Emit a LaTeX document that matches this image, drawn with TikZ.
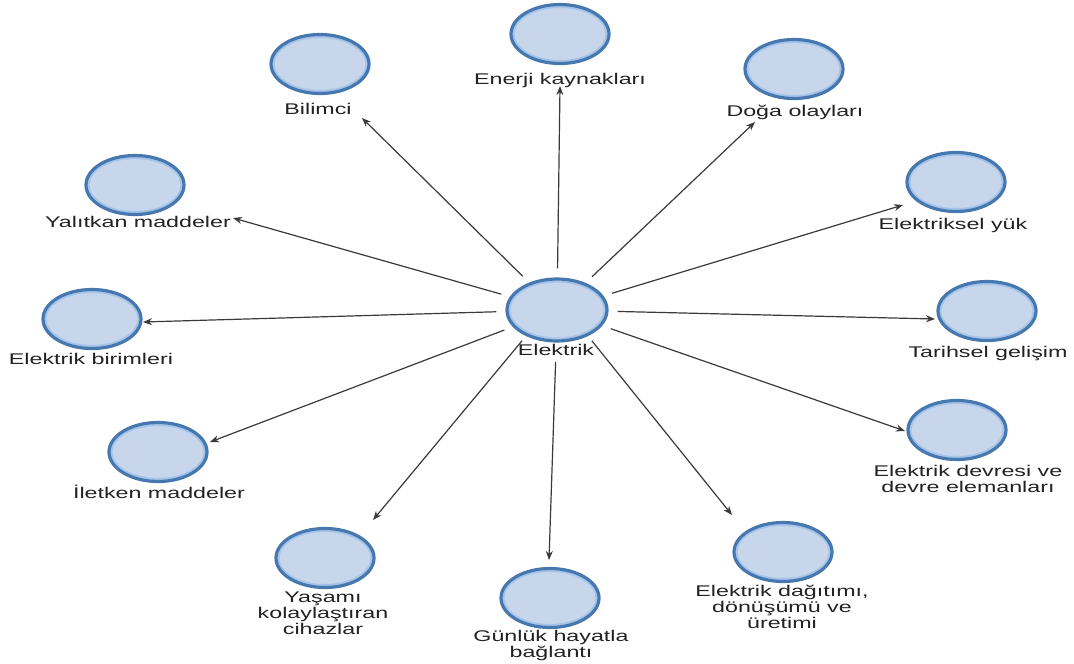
\documentclass[tikz,border=0pt]{standalone}
\usepackage{fontspec}
\setmainfont{Liberation Sans}
\newfontfamily\lblfont[FakeStretch=1.5]{Liberation Sans}
\usetikzlibrary{arrows.meta,shapes.geometric}
\definecolor{ringc}{HTML}{4678AF}
\definecolor{innerc}{HTML}{A3C4EA}
\definecolor{fillc}{HTML}{C8D6EB}
\definecolor{linec}{HTML}{3A3A3A}
\definecolor{textc}{HTML}{222222}
\begin{document}
\begin{tikzpicture}[x=1pt,y=-1pt,
  bub/.style={ellipse, draw=ringc, line width=3.2pt, fill=fillc,
    minimum width=98pt, minimum height=59pt, inner sep=0pt,
    path picture={\draw[innerc,line width=2pt] (path picture bounding box.center) ellipse [x radius=46.5pt, y radius=27pt];}},
  lbl/.style={anchor=north, inner sep=0pt, align=center, text=textc,
    font=\lblfont\fontsize{15.5}{16}\selectfont},
  link/.style={draw=linec, line width=1.2pt, -{Stealth[length=9pt,width=7pt]}, shorten <=9pt}]
\useasboundingbox[fill=white] (0,0) rectangle (1074,664);

% centre
\node[bub, minimum width=100pt, minimum height=62pt,
  path picture={\draw[innerc,line width=2pt] (path picture bounding box.center) ellipse [x radius=47.5pt, y radius=28.5pt];}] (c) at (557,310) {};
\node[lbl] (cl) at (556,344) {Elektrik};

% outer bubbles
\node[bub] (en) at (560,34) {};
\node[lbl] (enl) at (560,73) {Enerji kaynakları};
\node[bub] (bi) at (320,64) {};
\node[lbl] (bil) at (318,103) {Bilimci};
\node[bub] (do) at (794,69) {};
\node[lbl] (dol) at (795,105) {Doğa olayları};
\node[bub] (ey) at (956,182) {};
\node[lbl] (eyl) at (953,218) {Elektriksel yük};
\node[bub] (ya) at (135,185) {};
\node[lbl] (yal) at (138,216) {Yalıtkan maddeler};
\node[bub] (eb) at (92,319) {};
\node[lbl] (ebl) at (91,353) {Elektrik birimleri};
\node[bub] (ta) at (987,311) {};
\node[lbl] (tal) at (988,346) {Tarihsel gelişim};
\node[bub] (il) at (158,452) {};
\node[lbl] (ill) at (159,485) {İletken maddeler};
\node[bub] (de) at (957,430) {};
\node[lbl] (del) at (968,465) {Elektrik devresi ve\\devre elemanları};
\node[bub] (yk) at (325,558) {};
\node[lbl] (ykl) at (323,592) {Yaşamı\\kolaylaştıran\\cihazlar};
\node[bub] (gu) at (550,598) {};
\node[lbl] (gul) at (551,630) {Günlük hayatla\\bağlantı};
\node[bub] (da) at (783,552) {};
\node[lbl] (dal) at (782,585) {Elektrik dağıtımı,\\dönüşümü ve\\üretimi};

% arrow tips
\coordinate (tEn) at (560,86);
\coordinate (tBi) at (362,118);
\coordinate (tDo) at (755,122);
\coordinate (tEy) at (903,205);
\coordinate (tTa) at (935,319);
\coordinate (tDe) at (905,431);
\coordinate (tDa) at (732,515);
\coordinate (tGu) at (549,560);
\coordinate (tYk) at (373,520);
\coordinate (tIl) at (210,442);
\coordinate (tEb) at (143,322);
\coordinate (tYa) at (233,218);

\foreach \t in {tEn,tBi,tDo,tEy,tTa,tDe,tIl,tEb,tYa}
  \draw[link] (c) -- (\t);
\draw[link, shorten <=6pt] (c.-40) -- (tDa);
\draw[link, shorten <=6pt] (c.-140) -- (tYk);
\draw[link, shorten <=6pt] (cl) -- (tGu);
\end{tikzpicture}
\end{document}
